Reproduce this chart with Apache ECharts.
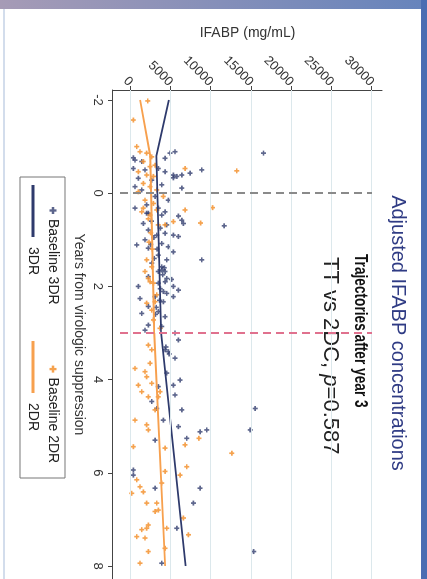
<!DOCTYPE html>
<html><head><meta charset="utf-8">
<script src="https://cdn.jsdelivr.net/npm/echarts@6/dist/echarts.min.js"></script>
<style>
html,body{margin:0;padding:0;width:427px;height:579px;overflow:hidden;background:#fff;}
#chart{position:absolute;left:0;top:0;width:579px;height:427px;transform-origin:0 0;transform:translate(427px,0) rotate(90deg);}
</style></head><body><div id="chart"></div>
<script>
// ---- data ----
const yearTicks = [-2, 0, 2, 4, 6, 8];
const ifabpTicks = [0, 5000, 10000, 15000, 20000, 25000, 30000];
const refYears = [0, 3];

const years3DR = [-0.86,-0.89,-0.75,-0.71,-0.68,-0.53,-0.5,-0.53,-0.46,-0.39,-0.39,-0.5,-0.36,-0.32,-0.28,-0.14,-0.18,-0.11,-0.07,0.07,0.15,0.25,0.32,0.32,0.4,0.43,-0.86,0.70,-0.76,-0.43,-0.33,0.49,0.65,0.93,
  0.43,0.47,0.58,0.65,0.68,0.79,0.9,0.86,0.9,1.0,1.08,1.11,1.15,1.18,1.26,1.33,1.43,1.43,1.5,1.58,1.68,1.68,1.79,1.83,2.0,1.93,2.0,2.08,2.11,2.26,2.22,2.22,2.33,2.43,2.58,2.54,2.65,2.83,2.86,2.94,
  1.6,1.75,2.05,1.2,0.95,2.3,1.85,0.6,1.4,2.6,1.65,1.9,2.15,2.45,1.1,0.75,
  3.36,3.4,3.15,3.54,3.86,4.01,4.12,4.15,4.33,4.47,4.62,4.65,4.87,5.01,5.12,5.08,5.26,5.3,3.0,3.3,3.45,
  5.94,6.05,6.33,6.33,6.65,7.19,7.94,4.62,5.08,7.69];
const ifabp3DR = [4910,5530,4290,560,1390,350,1800,3460,4290,5320,6370,8850,5750,970,2640,560,3880,6370,1390,3050,4700,2010,560,3460,4290,2210,16520,11630,350,7400,5320,5950,6570,5950,
  2010,3880,6370,1590,4500,2210,3260,4290,5320,1800,3880,770,4700,2210,5320,3460,4500,8850,2640,3880,3460,4290,2210,4500,970,3460,5320,5950,4080,1180,3050,5320,4080,2210,1390,3460,4290,2210,3880,1800,
  4200,4000,3700,3300,2900,3600,5100,2600,2950,3100,3900,4300,4500,3200,2500,3700,
  4290,4700,5950,5530,4500,6160,5320,3460,5530,2640,3260,6370,4080,5950,8640,9470,6990,3050,5530,4400,4800,
  350,350,3050,8640,7810,5750,3880,15490,14860,15300];

const years2DR = [-1.98,-1.57,-1.0,-0.89,-0.86,-0.78,-0.68,-0.57,-0.6,-0.46,-0.39,-0.36,-0.53,-0.21,-0.14,-0.07,-0.03,0.15,0.22,0.07,0.36,0.36,0.4,-0.48,0.31,0.64,
  0.47,0.68,0.68,0.61,1.43,1.58,1.68,1.83,1.9,1.93,2.18,2.36,2.33,2.51,2.9,2.72,
  0.32,0.55,0.85,1.05,1.2,
  3.26,3.36,3.76,3.83,3.65,3.94,4.12,4.08,4.26,4.37,4.26,4.65,4.87,4.97,5.08,5.44,5.47,5.4,5.26,4.37,
  5.87,6.05,6.15,6.3,6.41,6.44,6.22,5.97,6.65,6.65,6.83,6.8,6.97,7.12,7.19,7.19,7.22,7.37,7.4,7.33,7.62,7.69,7.94,5.58];
const ifabp2DR = [2140,350,770,1180,2010,2640,1590,2430,3050,970,2010,2840,6780,1590,2430,3260,970,1800,2840,4080,3260,6780,1390,13200,10200,8700,
  2430,3460,4290,5320,2010,2640,1800,2210,2430,2840,3260,2010,3050,2640,3670,2840,
  1590,2200,2500,2300,2700,
  2210,2640,560,1800,2430,2010,970,2640,1390,2210,3670,3050,560,2010,2210,350,4290,6780,8500,3460,
  6990,6160,770,1180,1590,150,3880,4290,2010,3260,3050,3460,6570,2210,2010,4500,1390,770,1800,7190,4290,2210,1180,12590];

const fitYears3DR = [-2, -0.8, 3, 8];
const fit3DR = [4750, 3200, 3800, 6850];
const fitYears2DR = [-2, -0.8, 3, 8];
const fit2DR = [1200, 2450, 2950, 4300];

// ---- styling ----
const FONT = 'Liberation Sans, Arial, Helvetica, sans-serif';
const NAVY = '#2e3a6c';
const ORANGE = '#f3922f';
const LINE_NAVY = '#2e3a6c';
const LINE_ORANGE = '#f7a04e';
const PLUS = 'path://M2,0H4V2H6V4H4V6H2V4H0V2H2Z';
const BAR = 'path://M0,0H52V3H0Z';
const refColors = ['#8a8a8a', '#e0718e'];

const zip = (a, b) => a.map((v, i) => [v, b[i]]);

const chart = echarts.init(document.getElementById('chart'), null, {renderer: 'canvas', width: 579, height: 427});

const gridLineData = ifabpTicks.map(v => ({yAxis: v}));
const refLineData = refYears.map((y, i) => [
  {coord: [y, -1300], lineStyle: {color: refColors[i], width: 2, type: [8, 5]}},
  {coord: [y, ifabpTicks[ifabpTicks.length - 1]]}
]);

chart.setOption({
  animation: false,
  backgroundColor: '#ffffff',
  textStyle: {fontFamily: FONT},
  grid: {left: 90, right: 0, top: 45, bottom: 113, containLabel: false},
  xAxis: {
    type: 'value', min: -2.2146, max: 8.279,
    axisLine: {show: true, onZero: false, lineStyle: {color: '#444', width: 1}},
    axisTick: {show: true, customValues: yearTicks, length: 5, lineStyle: {color: '#444'}},
    axisLabel: {customValues: yearTicks, fontSize: 13, color: '#333', margin: 9, fontFamily: FONT, formatter: v => String(v)},
    splitLine: {show: false},
    name: 'Years from virologic suppression', nameLocation: 'middle', nameGap: 27,
    nameTextStyle: {fontSize: 14, color: '#333', fontFamily: FONT}
  },
  yAxis: {
    type: 'value', min: -2177, max: 31244,
    axisLine: {show: true, onZero: false, lineStyle: {color: '#444', width: 1}},
    axisTick: {show: true, customValues: ifabpTicks, length: 4, lineStyle: {color: '#444'}},
    axisLabel: {customValues: ifabpTicks, rotate: 45, fontSize: 13, color: '#333', margin: 6, fontFamily: FONT, formatter: v => String(v)},
    splitLine: {show: false},
    name: 'IFABP (mg/mL)', nameLocation: 'middle', nameGap: 50,
    nameTextStyle: {fontSize: 14, color: '#333', fontFamily: FONT}
  },
  legend: [
    {data: [{name: 'Baseline 3DR', icon: PLUS}, {name: 'Baseline 2DR', icon: PLUS}], left: 207, top: 367, padding: 0,
      itemWidth: 7, itemHeight: 7, itemGap: 61,
      textStyle: {fontSize: 14, color: '#222', fontFamily: FONT}, selectedMode: false},
    {data: [{name: '3DR', icon: BAR}, {name: '2DR', icon: BAR}], left: 185, top: 387, padding: 0,
      itemWidth: 52, itemHeight: 3, itemGap: 66,
      textStyle: {fontSize: 14, color: '#222', fontFamily: FONT, padding: [0, 0, 0, 5]}, selectedMode: false}
  ],
  graphic: [
    {type: 'rect', shape: {x: 0, y: 0, width: 9, height: 427}, style: {fill: new echarts.graphic.LinearGradient(0, 0, 0, 1, [{offset: 0, color: '#6684bc'}, {offset: 1, color: '#a69bb6'}])}, silent: true},
    {type: 'rect', shape: {x: 0, y: 0, width: 579, height: 6}, style: {fill: '#4b6db2'}, silent: true},
    {type: 'rect', shape: {x: 9, y: 422, width: 570, height: 2}, style: {fill: '#d3ddec'}, silent: true},
    {type: 'rect', shape: {x: 177, y: 362, width: 301, height: 45}, style: {fill: 'none', stroke: '#777', lineWidth: 1}, silent: true, z: 10},
    {type: 'text', x: 333, y: 29, style: {text: 'Adjusted IFABP concentrations', fill: '#2f3b84', font: '20px ' + FONT, align: 'center', verticalAlign: 'middle', textAlign: 'center', textVerticalAlign: 'middle'}, silent: true},
    {type: 'text', x: 254, y: 67, scaleX: 0.72, style: {text: 'Trajectories after year 3', fill: '#111', font: 'bold 19px ' + FONT, align: 'left', verticalAlign: 'middle', textAlign: 'left', textVerticalAlign: 'middle'}, silent: true},
    {type: 'text', x: 257, y: 97, style: {text: 'TT vs 2DC, {i|p}=0.587', fill: '#222', font: '22px ' + FONT, align: 'left', verticalAlign: 'middle', textAlign: 'left', textVerticalAlign: 'middle',
      rich: {i: {fontStyle: 'italic', fontSize: 22, fontFamily: FONT, fill: '#222', color: '#222'}}}, silent: true}
  ],
  series: [
    {type: 'scatter', name: 'grid', data: [], silent: true, z: 1,
      markLine: {silent: true, symbol: ['none', 'none'], label: {show: false}, animation: false,
        lineStyle: {color: '#dce8ec', width: 1, type: 'solid'}, data: gridLineData}},
    {type: 'scatter', name: 'ref', data: [], silent: true, z: 1,
      markLine: {silent: true, symbol: ['none', 'none'], label: {show: false}, animation: false, data: refLineData}},
    {type: 'scatter', name: 'Baseline 3DR', data: zip(years3DR, ifabp3DR), symbol: PLUS, symbolSize: 5,
      itemStyle: {color: NAVY, opacity: 0.78}, z: 3},
    {type: 'scatter', name: 'Baseline 2DR', data: zip(years2DR, ifabp2DR), symbol: PLUS, symbolSize: 5,
      itemStyle: {color: ORANGE, opacity: 0.85}, z: 3},
    {type: 'line', name: '3DR', data: zip(fitYears3DR, fit3DR), symbol: 'none', showSymbol: false,
      lineStyle: {color: LINE_NAVY, width: 1.8}, itemStyle: {color: LINE_NAVY}, z: 4},
    {type: 'line', name: '2DR', data: zip(fitYears2DR, fit2DR), symbol: 'none', showSymbol: false,
      lineStyle: {color: LINE_ORANGE, width: 1.8}, itemStyle: {color: LINE_ORANGE}, z: 4}
  ]
});
</script></body></html>
